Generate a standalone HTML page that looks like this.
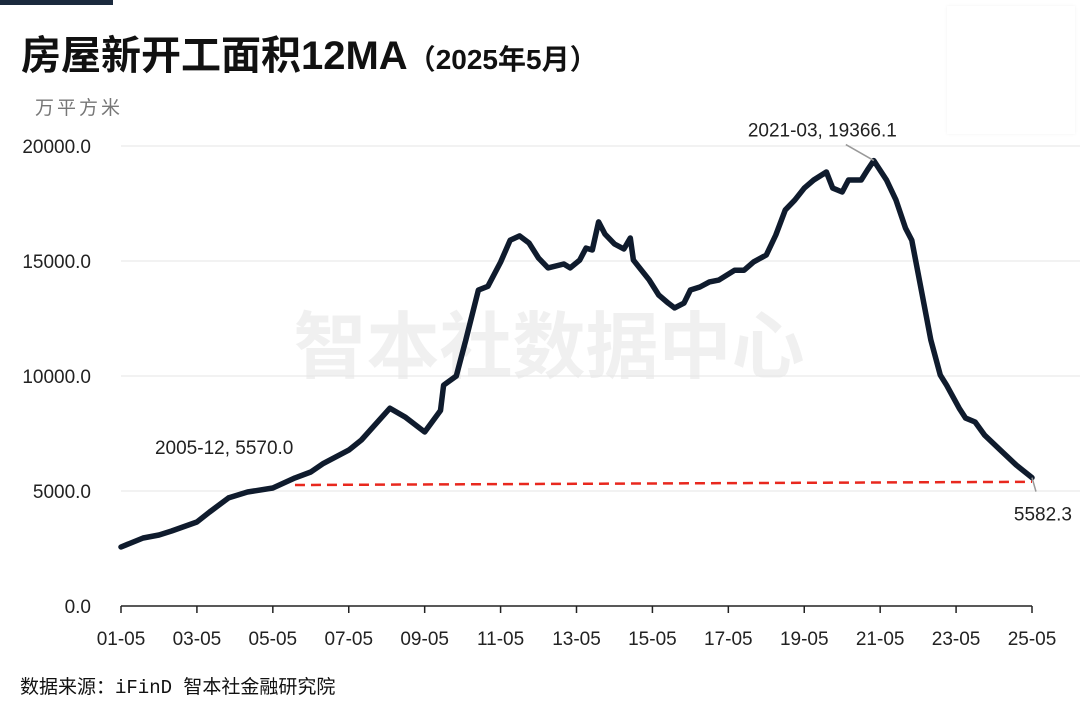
<!DOCTYPE html>
<html><head><meta charset="utf-8">
<style>
html,body{margin:0;padding:0;background:#fff;}
body{width:1080px;height:708px;overflow:hidden;position:relative;font-family:"Liberation Sans","Noto Sans CJK SC",sans-serif;}
</style></head>
<body>
<div style="position:absolute;left:0;top:0;width:113px;height:5px;background:#1b2a3d"></div>
<div style="position:absolute;left:947px;top:6px;width:128px;height:128px;background:#fff;box-shadow:0 0 3px rgba(0,0,0,0.06)"></div>
<div style="position:absolute;left:21px;top:26px;font-size:40px;line-height:60px;font-weight:bold;color:#111;white-space:nowrap;font-family:'Liberation Sans','Noto Sans CJK SC',sans-serif">房屋新开工面积12MA<span style="font-size:28px">（2025年5月）</span></div>
<svg id="chart" width="1080" height="708" style="position:absolute;left:0;top:0" xmlns="http://www.w3.org/2000/svg"></svg>
<div style="position:absolute;left:20px;top:672px;font-size:19px;color:#111;font-family:'Liberation Mono','Noto Sans CJK SC',monospace;white-space:nowrap">数据来源：iFinD 智本社金融研究院</div>
<script>
const dates=["2001-05","2001-12","2002-05","2002-09","2003-05","2003-09","2004-03","2004-09","2005-05","2005-12","2006-05","2006-09","2007-05","2007-09","2008-06","2008-11","2009-05","2009-10","2009-11","2010-03","2010-06","2010-10","2011-01","2011-05","2011-08","2011-11","2012-02","2012-05","2012-08","2013-01","2013-03","2013-06","2013-08","2013-10","2013-12","2014-02","2014-05","2014-08","2014-10","2014-11","2015-04","2015-07","2015-10","2015-12","2016-03","2016-05","2016-08","2016-11","2017-02","2017-07","2017-10","2018-01","2018-05","2018-08","2018-11","2019-02","2019-05","2019-08","2019-12","2020-02","2020-05","2020-07","2020-11","2021-01","2021-03","2021-07","2021-10","2022-01","2022-03","2022-06","2022-09","2022-12","2023-02","2023-06","2023-08","2023-11","2024-02","2024-07","2024-12","2025-05"];
const values=[2565,2956,3087,3260,3650,4087,4700,4957,5130,5570,5826,6200,6780,7217,8600,8200,7565,8500,9600,10000,11565,13740,13900,14950,15900,16090,15780,15130,14700,14870,14700,15040,15560,15480,16700,16170,15740,15520,16000,15040,14170,13520,13170,12960,13170,13740,13870,14090,14170,14600,14600,14960,15260,16130,17220,17650,18170,18520,18870,18170,18000,18520,18520,18960,19366,18520,17650,16430,15900,13740,11570,10040,9600,8600,8170,8000,7430,6780,6130,5582.3];
const yTicks=[0,5000,10000,15000,20000];
const xTickLabels=["01-05","03-05","05-05","07-05","09-05","11-05","13-05","15-05","17-05","19-05","21-05","23-05","25-05"];
const refDates=["2005-12","2025-05"];
const refValues=[5260,5400];
const annotations=[["2005-12","2005-12, 5570.0"],["2021-03","2021-03, 19366.1"],["2025-05","5582.3"]];

const svg=document.getElementById('chart');
const NS="http://www.w3.org/2000/svg";
const X0=121,X1=1032,Y0=606,Y1=146;
function mi(d){const p=d.split('-');return (+p[0]-2001)*12+(+p[1]-5);}
function xs(d){return X0+(mi(d)/288)*(X1-X0);}
function ys(v){return Y0-(v/20000)*(Y0-Y1);}
function el(t,a){const e=document.createElementNS(NS,t);for(const k in a)e.setAttribute(k,a[k]);svg.appendChild(e);return e;}

const wm=el('text',{x:549,y:372,'text-anchor':'middle','font-size':73,'font-weight':'bold',fill:'#000','fill-opacity':0.06,'font-family':'Noto Sans CJK SC,sans-serif'});
wm.textContent="智本社数据中心";



const unit=el('text',{x:35,y:114,'font-size':19,fill:'#777','letter-spacing':'3','font-family':'Noto Sans CJK SC,sans-serif'});
unit.textContent="万平方米";



yTicks.forEach(v=>{
  if(v>0){const g=el('line',{x1:X0,x2:1080,y1:ys(v),y2:ys(v),stroke:'#e6e6e6','stroke-width':1});
  
  }
  const t=el('text',{x:91,y:ys(v)+7,'text-anchor':'end','font-size':19,fill:'#222'});
  t.textContent=v.toFixed(1);
  
  
});
const ax=el('line',{x1:X0,x2:X1,y1:Y0,y2:Y0,stroke:'#222','stroke-width':1.5});


xTickLabels.forEach((lab,i)=>{
  const x=X0+i*24*(X1-X0)/288;
  const tk=el('line',{x1:x,x2:x,y1:Y0,y2:Y0+7,stroke:'#222','stroke-width':1.5});
  
  
  const t=el('text',{x:x,y:645,'text-anchor':'middle','font-size':19,fill:'#222'});
  t.textContent=lab;
  
  
});
const ref=el('line',{x1:xs(refDates[0]),x2:xs(refDates[1]),y1:ys(refValues[0]),y2:ys(refValues[1]),stroke:'#e8281e','stroke-width':2.5,'stroke-dasharray':'10,6'});



const pts=dates.map((d,i)=>xs(d).toFixed(1)+','+ys(values[i]).toFixed(1)).join(' ');
const line=el('polyline',{points:pts,fill:'none',stroke:'#0f1b2d','stroke-width':5.5,'stroke-linejoin':'round','stroke-linecap':'round'});



const a0=annotations[0];
let t=el('text',{x:xs(a0[0])-140,y:ys(5570)-24,'font-size':19,fill:'#222'});
t.textContent=a0[1];


const a1=annotations[1];
const pk=values[dates.indexOf(a1[0])];
let l=el('line',{x1:xs(a1[0]),y1:ys(pk),x2:xs(a1[0])-28,y2:ys(pk)-16,stroke:'#999','stroke-width':1.5});


t=el('text',{x:xs(a1[0])-126,y:ys(pk)-24,'font-size':19,fill:'#222'});
t.textContent=a1[1];


const a2=annotations[2];
l=el('line',{x1:xs(a2[0]),y1:ys(5582.3),x2:xs(a2[0])+4,y2:ys(5582.3)+14,stroke:'#999','stroke-width':1.5});


t=el('text',{x:1072,y:ys(5582.3)+43,'text-anchor':'end','font-size':19,fill:'#222'});
t.textContent=a2[1];


</script>
</body></html>
